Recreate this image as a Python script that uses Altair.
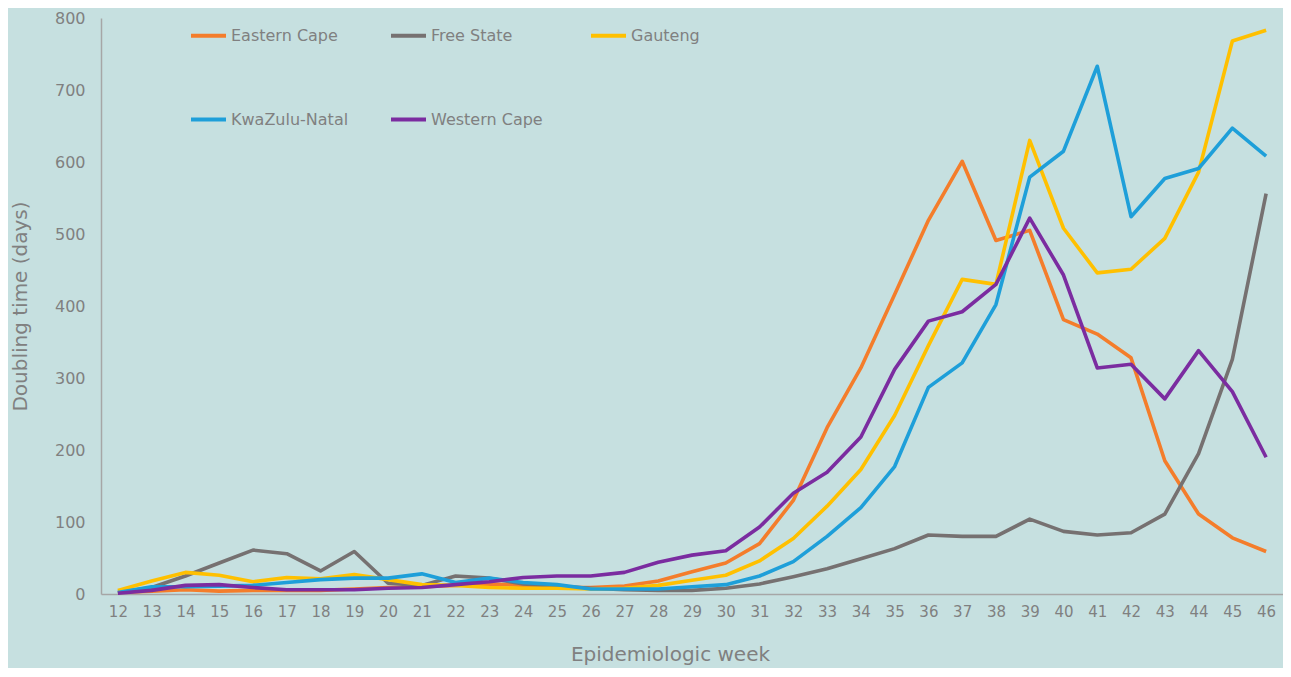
import altair as alt
import pandas as pd

weeks = list(range(12, 47))

eastern_cape = [2, 4, 6, 4, 5, 5, 5, 7, 9, 10, 12, 14, 12, 9, 9, 11, 18, 31, 43, 70,
                130, 231, 314, 416, 519, 601, 491, 505, 381, 361, 328, 185, 111, 78, 59]
free_state = [2, 9, 25, 43, 61, 56, 32, 59, 15, 12, 25, 22, 14, 11, 8, 6, 5, 5, 8, 14,
              24, 35, 49, 63, 82, 80, 80, 104, 87, 82, 85, 111, 195, 326, 556]
gauteng = [5, 18, 30, 26, 17, 23, 21, 27, 20, 13, 12, 9, 8, 8, 7, 8, 12, 19, 26, 46,
           77, 122, 173, 248, 345, 437, 430, 630, 508, 446, 451, 494, 586, 768, 783]
kwazulu_natal = [2, 10, 10, 11, 12, 16, 20, 22, 22, 28, 16, 22, 16, 13, 7, 7, 7, 10, 13, 25,
                 45, 80, 120, 177, 287, 321, 402, 579, 615, 733, 524, 577, 591, 647, 608]
western_cape = [1, 5, 12, 13, 9, 6, 6, 6, 8, 9, 13, 17, 23, 25, 25, 30, 44, 54, 60, 93,
                140, 169, 218, 312, 379, 392, 430, 522, 443, 314, 319, 271, 338, 281, 190]

provinces = ["Eastern Cape", "Free State", "Gauteng", "KwaZulu-Natal", "Western Cape"]
colors = ["#F47D2B", "#767171", "#FFC000", "#1E9FD9", "#7B2CA0"]
series = [eastern_cape, free_state, gauteng, kwazulu_natal, western_cape]

rows = []
for name, vals in zip(provinces, series):
    for w, v in zip(weeks, vals):
        rows.append({"week": w, "value": v, "province": name})
df = pd.DataFrame(rows)

FONT = "DejaVu Sans"
GRAY = "#808080"

chart = alt.Chart(df).mark_line(strokeWidth=3.6, strokeJoin="round").encode(
    x=alt.X("week:O", title="Epidemiologic week",
            axis=alt.Axis(labelAngle=0, ticks=False, labelPadding=10,
                          titlePadding=25, titleX=569, labelFontSize=15, titleFontSize=20,
                          domainColor="#a6a6a6", domainWidth=1.5)),
    y=alt.Y("value:Q", title="Doubling time (days)",
            scale=alt.Scale(domain=[0, 800], nice=False),
            axis=alt.Axis(values=list(range(0, 801, 100)), ticks=False, grid=False,
                          labelPadding=16, titlePadding=24, labelFontSize=16,
                          titleFontSize=20, domainColor="#a6a6a6", domainWidth=1.5)),
    color=alt.Color("province:N", scale=alt.Scale(domain=provinces, range=colors),
                    legend=alt.Legend(title=None, orient="none", legendX=88, legendY=-2,
                                      direction="horizontal",
                                      columns=3, gridAlign="all", columnPadding=34,
                                      rowPadding=56, symbolType="stroke",
                                      symbolSize=1225, symbolStrokeWidth=4,
                                      labelOffset=3, labelFontSize=16,
                                      labelColor=GRAY, labelFont=FONT)),
).properties(
    width=1182, height=576, background="#c6e0e0",
    padding={"left": 2, "top": 2, "right": 0, "bottom": 4},
).configure_view(stroke=None).configure_axis(
    grid=False, labelColor=GRAY, titleColor=GRAY, labelFont=FONT, titleFont=FONT,
    titleFontWeight="normal"
)

chart.save("out.html", embed_options={"renderer": "svg", "actions": False})
